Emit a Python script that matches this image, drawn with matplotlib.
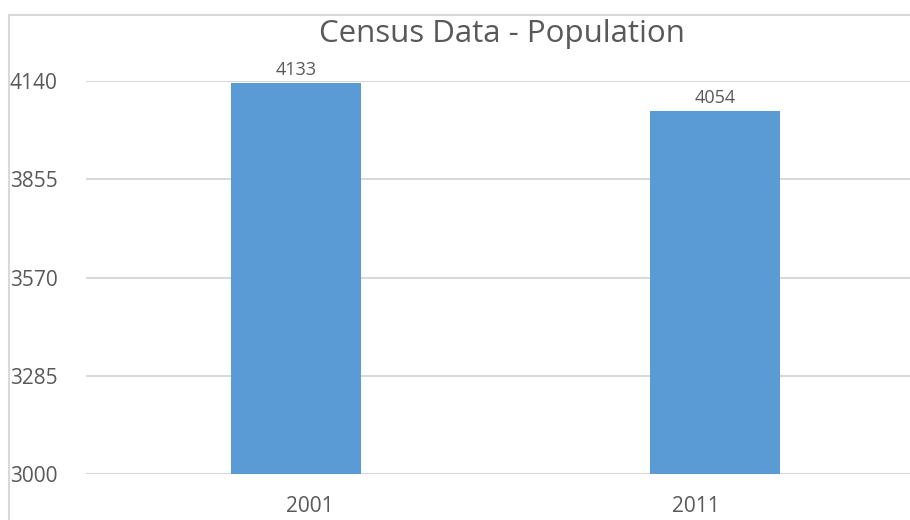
import matplotlib.pyplot as plt
from matplotlib.patches import Rectangle
from matplotlib.transforms import ScaledTranslation

years = ["2001", "2011"]
population = [4133, 4054]
yticks = [3000, 3285, 3570, 3855, 4140]

plt.rcParams['font.family'] = ['Open Sans', 'DejaVu Sans']
grey = "#595959"

fig = plt.figure(figsize=(9.1, 5.2), dpi=100)
fig.patches.append(Rectangle((8.5 / 910, -0.1), 1.2, 1 - 14.5 / 520 + 0.1,
                             transform=fig.transFigure, fill=False,
                             edgecolor="#D9D9D9", linewidth=1.5))

ax = fig.add_axes([86 / 910, 1 - 474 / 520, 839 / 910, (474 - 81) / 520])
x = range(len(years))
bars = ax.bar(x, population, width=0.31, color="#5B9BD5", zorder=3)
for b, v in zip(bars, population):
    ax.text(b.get_x() + b.get_width() / 2, v + 12, str(v), ha="center",
            va="bottom", fontsize=13, color=grey)

ax.set_xlim(-0.5, 1.5)
ax.set_ylim(yticks[0], yticks[-1])
ax.set_yticks(yticks)
ax.set_xticks(list(x))
ax.set_xticklabels(years)
ax.grid(axis="y", color="#D9D9D9", linewidth=1.5, zorder=0)
for s in ax.spines.values():
    s.set_visible(False)
ax.tick_params(length=0, colors=grey, labelsize=15)
ax.tick_params(axis="x", pad=16, labelsize=15)
for lab in ax.get_yticklabels():
    lab.set_horizontalalignment("left")
ax.tick_params(axis="y", pad=55)

# the category labels sit a little off the bar centres in the original
for lab, dx in zip(ax.get_xticklabels(), [14, -19]):
    lab.set_transform(lab.get_transform() + ScaledTranslation(dx / 100, 0, fig.dpi_scale_trans))

fig.text(502 / 910, 1 - 34 / 520, "Census Data - Population", ha="center",
         va="center", fontsize=22.5, color=grey)

fig.savefig("out.png", dpi=100)
